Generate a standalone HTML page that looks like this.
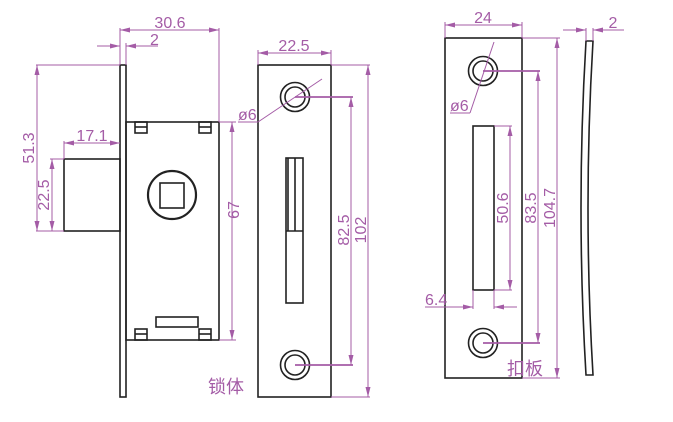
<!DOCTYPE html>
<html><head><meta charset="utf-8"><style>
html,body{margin:0;padding:0;background:#fff;}
svg{display:block;}
text{font-family:"Liberation Sans","Noto Sans CJK SC",sans-serif;fill:#a45ca6;}
</style></head><body>
<svg width="673" height="422" viewBox="0 0 673 422" xmlns="http://www.w3.org/2000/svg">
<defs>
<marker id="a" viewBox="0 0 10 6" refX="10" refY="3" markerWidth="10" markerHeight="6" orient="auto-start-reverse" markerUnits="userSpaceOnUse"><path d="M0,0.5 L10,3 L0,5.5 Z" fill="#a45ca6"/></marker>
</defs>
<g fill="none" stroke="#222" stroke-width="1.6">
<rect x="120" y="65" width="6" height="332"/>
<rect x="126" y="122" width="93" height="218"/>
<rect x="64" y="159" width="56" height="72"/>
<rect x="135" y="122" width="12" height="11"/><line x1="135" y1="127" x2="147" y2="127"/>
<rect x="199" y="122" width="12" height="11"/><line x1="199" y1="127" x2="211" y2="127"/>
<rect x="135" y="329" width="12" height="11"/><line x1="135" y1="334" x2="147" y2="334"/>
<rect x="199" y="329" width="12" height="11"/><line x1="199" y1="334" x2="211" y2="334"/>
<rect x="156" y="317" width="42" height="10"/>
<circle cx="172" cy="195" r="24" stroke-width="2.2"/>
<rect x="160" y="183" width="24" height="25"/>
<rect x="258" y="65" width="73" height="332"/>
<circle cx="295" cy="97" r="14.5"/><circle cx="295" cy="97" r="10"/>
<circle cx="295" cy="365" r="14.5"/><circle cx="295" cy="365" r="10"/>
<rect x="286" y="158" width="17" height="145"/>
<line x1="295" y1="158" x2="295" y2="231"/>
<line x1="286" y1="231" x2="303" y2="231"/>
<line x1="288" y1="158" x2="288" y2="231"/>
<rect x="445" y="38" width="77" height="340"/>
<circle cx="483" cy="71" r="14.5"/><circle cx="483" cy="71" r="10"/>
<circle cx="483" cy="343" r="14.5"/><circle cx="483" cy="343" r="10"/>
<rect x="473" y="126" width="21" height="164"/>
<path d="M586,41 L593,41 Q583,208 593,375 L586,375 Q576,208 586,41 Z"/>
</g>
<g stroke="#a45ca6" stroke-width="1" fill="none">
<line x1="120" y1="30" x2="219" y2="30" marker-start="url(#a)" marker-end="url(#a)"/>
<line x1="120" y1="28" x2="120" y2="65"/><line x1="219" y1="28" x2="219" y2="122"/>
<line x1="97" y1="46" x2="120" y2="46" marker-end="url(#a)"/>
<line x1="158" y1="46" x2="126" y2="46" marker-end="url(#a)"/>
<line x1="126" y1="43" x2="126" y2="65"/>
<line x1="37" y1="65" x2="37" y2="231" marker-start="url(#a)" marker-end="url(#a)"/>
<line x1="36" y1="65" x2="120" y2="65"/><line x1="36" y1="231" x2="64" y2="231"/>
<line x1="52" y1="159" x2="52" y2="231" marker-start="url(#a)" marker-end="url(#a)"/>
<line x1="50" y1="159" x2="64" y2="159"/>
<line x1="64" y1="143" x2="120" y2="143" marker-start="url(#a)" marker-end="url(#a)"/>
<line x1="64" y1="141" x2="64" y2="159"/>
<line x1="232" y1="122" x2="232" y2="340" marker-start="url(#a)" marker-end="url(#a)"/>
<line x1="219" y1="122" x2="236" y2="122"/><line x1="219" y1="340" x2="236" y2="340"/>
<line x1="258" y1="53" x2="331" y2="53" marker-start="url(#a)" marker-end="url(#a)"/>
<line x1="258" y1="50" x2="258" y2="65"/><line x1="331" y1="50" x2="331" y2="65"/>
<line x1="322" y1="79" x2="258" y2="122"/>
<line x1="238" y1="122" x2="258" y2="122"/>
<line x1="351" y1="97" x2="351" y2="365" marker-start="url(#a)" marker-end="url(#a)"/>
<line x1="295" y1="97" x2="353" y2="97" stroke-width="1.8"/><line x1="295" y1="365" x2="353" y2="365" stroke-width="1.8"/>
<line x1="368" y1="65" x2="368" y2="397" marker-start="url(#a)" marker-end="url(#a)"/>
<line x1="331" y1="65" x2="370" y2="65"/><line x1="331" y1="397" x2="370" y2="397"/>
<line x1="445" y1="25" x2="522" y2="25" marker-start="url(#a)" marker-end="url(#a)"/>
<line x1="445" y1="22" x2="445" y2="38"/><line x1="522" y1="22" x2="522" y2="38"/>
<line x1="494" y1="42" x2="470" y2="113"/><line x1="450" y1="113" x2="470" y2="113"/>
<line x1="510" y1="126" x2="510" y2="290" marker-start="url(#a)" marker-end="url(#a)"/>
<line x1="494" y1="126" x2="512" y2="126"/><line x1="494" y1="290" x2="512" y2="290"/>
<line x1="538" y1="71" x2="538" y2="343" marker-start="url(#a)" marker-end="url(#a)"/>
<line x1="483" y1="71" x2="540" y2="71" stroke-width="1.8"/><line x1="483" y1="343" x2="540" y2="343" stroke-width="1.8"/>
<line x1="557" y1="38" x2="557" y2="378" marker-start="url(#a)" marker-end="url(#a)"/>
<line x1="522" y1="38" x2="560" y2="38"/><line x1="522" y1="378" x2="560" y2="378"/>
<line x1="425" y1="307" x2="473" y2="307" marker-end="url(#a)"/>
<line x1="517" y1="307" x2="494" y2="307" marker-end="url(#a)"/>
<line x1="473" y1="290" x2="473" y2="309"/><line x1="494" y1="290" x2="494" y2="309"/>
<line x1="563" y1="30" x2="586" y2="30" marker-end="url(#a)"/>
<line x1="624" y1="30" x2="593" y2="30" marker-end="url(#a)"/>
<line x1="586" y1="28" x2="586" y2="41"/><line x1="593" y1="28" x2="593" y2="41"/>
</g>
<g font-size="16">
<text x="170" y="28" text-anchor="middle">30.6</text>
<text x="150" y="45">2</text>
<text x="92" y="141" text-anchor="middle">17.1</text>
<text transform="translate(34,148) rotate(-90)" text-anchor="middle">51.3</text>
<text transform="translate(49,195) rotate(-90)" text-anchor="middle">22.5</text>
<text transform="translate(239,210) rotate(-90)" text-anchor="middle">67</text>
<text x="294" y="51" text-anchor="middle">22.5</text>
<text x="238" y="120">ø6</text>
<text transform="translate(349,230) rotate(-90)" text-anchor="middle">82.5</text>
<text transform="translate(366,230) rotate(-90)" text-anchor="middle">102</text>
<text x="483" y="23" text-anchor="middle">24</text>
<text x="450" y="111">ø6</text>
<text transform="translate(508,208) rotate(-90)" text-anchor="middle">50.6</text>
<text transform="translate(536,208) rotate(-90)" text-anchor="middle">83.5</text>
<text transform="translate(555,208) rotate(-90)" text-anchor="middle">104.7</text>
<text x="425" y="305">6.4</text>
<text x="613" y="28" text-anchor="middle">2</text>
<text x="208" y="393" font-size="18">锁体</text>
<text x="507" y="375" font-size="18">扣板</text>
</g>
</svg>
</body></html>
